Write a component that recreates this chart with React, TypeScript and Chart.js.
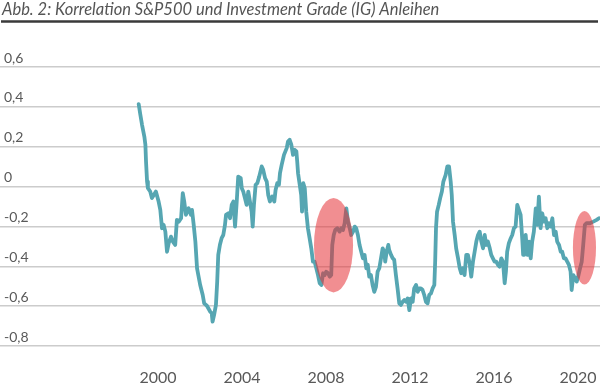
import React, { useEffect, useRef } from "react";
import { Chart, registerables } from "chart.js";

Chart.register(...registerables);

const TITLE = "Abb. 2: Korrelation S&P500 und Investment Grade (IG) Anleihen";

const xTicks = [2000, 2004, 2008, 2012, 2016, 2020];
const yTicks = [-0.8, -0.6, -0.4, -0.2, 0, 0.2, 0.4, 0.6];

const years = [
  1999.08, 1999.16, 1999.24, 1999.35, 1999.4, 1999.43, 1999.48, 1999.52, 1999.63, 1999.71,
  1999.8, 1999.9, 2000.03, 2000.11, 2000.19, 2000.27, 2000.35, 2000.43, 2000.51, 2000.62,
  2000.71, 2000.82, 2000.9, 2000.99, 2001.1, 2001.18, 2001.25, 2001.33, 2001.46, 2001.57,
  2001.62, 2001.7, 2001.78, 2001.86, 2002.01, 2002.13, 2002.2, 2002.33, 2002.49, 2002.56,
  2002.6, 2002.67, 2002.76, 2002.82, 2002.87, 2002.95, 2003.03, 2003.11, 2003.19, 2003.24,
  2003.35, 2003.43, 2003.51, 2003.59, 2003.67, 2003.75, 2003.82, 2003.94, 2003.99, 2004.06,
  2004.14, 2004.22, 2004.3, 2004.38, 2004.46, 2004.51, 2004.57, 2004.65, 2004.73, 2004.82,
  2004.94, 2005.01, 2005.1, 2005.18, 2005.25, 2005.33, 2005.44, 2005.54, 2005.6, 2005.68,
  2005.76, 2005.81, 2005.89, 2006.0, 2006.13, 2006.19, 2006.27, 2006.35, 2006.43, 2006.51,
  2006.59, 2006.63, 2006.67, 2006.75, 2006.82, 2006.86, 2006.92, 2006.99, 2007.06, 2007.14,
  2007.22, 2007.3, 2007.38, 2007.46, 2007.54, 2007.62, 2007.7, 2007.78, 2007.86, 2007.94,
  2008.01, 2008.1, 2008.18, 2008.25, 2008.3, 2008.37, 2008.44, 2008.54, 2008.65, 2008.73,
  2008.81, 2008.89, 2008.97, 2009.05, 2009.13, 2009.2, 2009.29, 2009.37, 2009.44, 2009.52,
  2009.6, 2009.68, 2009.76, 2009.84, 2009.92, 2009.99, 2010.06, 2010.14, 2010.22, 2010.3,
  2010.38, 2010.46, 2010.54, 2010.62, 2010.7, 2010.78, 2010.82, 2010.89, 2010.97, 2011.01,
  2011.1, 2011.18, 2011.25, 2011.33, 2011.41, 2011.49, 2011.57, 2011.65, 2011.73, 2011.81,
  2011.89, 2011.97, 2012.05, 2012.13, 2012.2, 2012.29, 2012.37, 2012.44, 2012.52, 2012.6,
  2012.68, 2012.76, 2012.84, 2012.92, 2013.0, 2013.08, 2013.16, 2013.2, 2013.24, 2013.29,
  2013.37, 2013.44, 2013.52, 2013.59, 2013.7, 2013.78, 2013.86, 2013.94, 2013.99, 2014.05,
  2014.13, 2014.2, 2014.29, 2014.37, 2014.44, 2014.52, 2014.6, 2014.68, 2014.76, 2014.84,
  2014.92, 2015.0, 2015.08, 2015.16, 2015.24, 2015.32, 2015.4, 2015.48, 2015.56, 2015.63,
  2015.71, 2015.8, 2015.87, 2015.95, 2016.03, 2016.11, 2016.19, 2016.27, 2016.35, 2016.43,
  2016.51, 2016.57, 2016.63, 2016.71, 2016.8, 2016.87, 2016.95, 2017.03, 2017.11, 2017.19,
  2017.27, 2017.35, 2017.39, 2017.43, 2017.51, 2017.59, 2017.67, 2017.75, 2017.82, 2017.9,
  2017.99, 2018.06, 2018.14, 2018.22, 2018.3, 2018.38, 2018.46, 2018.54, 2018.62, 2018.7,
  2018.78, 2018.86, 2018.94, 2019.01, 2019.1, 2019.18, 2019.25, 2019.33, 2019.41, 2019.49,
  2019.57, 2019.65, 2019.7, 2019.78, 2019.86, 2019.94, 2020.01, 2020.1, 2020.18, 2020.25,
  2020.33, 2020.41, 2020.57, 2020.73, 2020.89, 2021.0,
];

const correlation = [
  0.414, 0.36, 0.31, 0.251, 0.21, 0.126, 0.025, -0.008, -0.025, -0.058,
  -0.042, -0.025, -0.075, -0.117, -0.209, -0.192, -0.226, -0.327, -0.284, -0.251,
  -0.276, -0.293, -0.167, -0.176, -0.159, -0.033, -0.075, -0.142, -0.109, -0.142,
  -0.117, -0.192, -0.276, -0.41, -0.494, -0.544, -0.586, -0.598, -0.628, -0.636,
  -0.678, -0.645, -0.594, -0.477, -0.343, -0.292, -0.259, -0.243, -0.192, -0.142,
  -0.134, -0.159, -0.092, -0.075, -0.201, -0.075, 0.05, 0.042, -0.008, -0.025,
  -0.058, -0.092, -0.025, -0.075, -0.126, -0.201, -0.092, 0.009, 0.017, 0.05,
  0.101, 0.084, 0.042, 0.025, -0.042, -0.075, -0.05, -0.075, -0.017, 0.017,
  0.009, 0.067, 0.109, 0.159, 0.193, 0.226, 0.235, 0.21, 0.159, 0.184,
  0.176, 0.126, 0.067, 0.009, -0.042, -0.126, 0.017, -0.008, -0.126, -0.209,
  -0.259, -0.31, -0.377, -0.377, -0.41, -0.444, -0.485, -0.494, -0.435, -0.444,
  -0.427, -0.435, -0.452, -0.444, -0.293, -0.243, -0.218, -0.209, -0.226, -0.209,
  -0.218, -0.184, -0.109, -0.176, -0.209, -0.243, -0.226, -0.201, -0.209, -0.243,
  -0.293, -0.327, -0.36, -0.343, -0.41, -0.392, -0.452, -0.444, -0.494, -0.528,
  -0.503, -0.427, -0.41, -0.36, -0.31, -0.327, -0.377, -0.327, -0.293, -0.318,
  -0.343, -0.36, -0.368, -0.444, -0.511, -0.586, -0.594, -0.578, -0.569, -0.578,
  -0.561, -0.62, -0.561, -0.578, -0.511, -0.494, -0.528, -0.511, -0.511, -0.519,
  -0.544, -0.578, -0.586, -0.544, -0.536, -0.511, -0.494, -0.377, -0.209, -0.126,
  -0.092, -0.058, -0.025, 0.025, 0.059, 0.101, 0.101, 0.025, -0.042, -0.176,
  -0.243, -0.31, -0.36, -0.41, -0.435, -0.41, -0.444, -0.343, -0.343, -0.385,
  -0.452, -0.377, -0.327, -0.276, -0.243, -0.226, -0.276, -0.31, -0.243, -0.293,
  -0.276, -0.31, -0.343, -0.36, -0.377, -0.377, -0.393, -0.402, -0.36, -0.377,
  -0.485, -0.427, -0.327, -0.284, -0.259, -0.243, -0.209, -0.201, -0.092, -0.117,
  -0.142, -0.268, -0.343, -0.31, -0.243, -0.343, -0.276, -0.36, -0.276, -0.226,
  -0.109, -0.192, -0.05, -0.209, -0.134, -0.176, -0.159, -0.209, -0.184, -0.201,
  -0.159, -0.243, -0.226, -0.276, -0.293, -0.327, -0.327, -0.36, -0.36, -0.377,
  -0.393, -0.427, -0.519, -0.444, -0.46, -0.477, -0.452, -0.41, -0.377, -0.293,
  -0.192, -0.184, -0.184, -0.176, -0.167, -0.159,
];

// highlighted crisis periods (centre and half-extent in data units)
const highlightCenterX = [2008.36, 2020.31];
const highlightCenterY = [-0.294, -0.307];
const highlightHalfX = [0.93, 0.55];
const highlightHalfY = [0.237, 0.184];

const X_MIN = 1992.476;
const X_MAX = 2021.05;

const fmtY = (v: number) => {
  if (Math.abs(v) < 1e-9) return "0";
  return v.toFixed(1).replace(".", ",");
};

const titlePlugin = {
  id: "titleRule",
  afterDraw(chart: any) {
    const ctx = chart.ctx;
    ctx.save();
    ctx.font = "italic 16.5px Lato";
    ctx.fillStyle = "#555555";
    ctx.textBaseline = "alphabetic";
    ctx.textAlign = "left";
    ctx.fillText(TITLE, 2, 15);
    ctx.strokeStyle = "#3a3a3a";
    ctx.lineWidth = 2.5;
    ctx.beginPath();
    ctx.moveTo(1, 21.5);
    ctx.lineTo(598, 21.5);
    ctx.stroke();
    ctx.restore();
  },
};

const ellipsePlugin = {
  id: "highlights",
  afterDatasetsDraw(chart: any) {
    const ctx = chart.ctx;
    const xs = chart.scales.x;
    const ys = chart.scales.y;
    ctx.save();
    ctx.fillStyle = "rgba(230, 50, 55, 0.55)";
    for (let i = 0; i < highlightCenterX.length; i++) {
      const cx = xs.getPixelForValue(highlightCenterX[i]);
      const cy = ys.getPixelForValue(highlightCenterY[i]);
      const rx = Math.abs(xs.getPixelForValue(highlightCenterX[i] + highlightHalfX[i]) - cx);
      const ry = Math.abs(ys.getPixelForValue(highlightCenterY[i] + highlightHalfY[i]) - cy);
      ctx.beginPath();
      ctx.ellipse(cx, cy, rx, ry, 0, 0, Math.PI * 2);
      ctx.fill();
    }
    ctx.restore();
  },
};

export default function App() {
  const ref = useRef<HTMLCanvasElement | null>(null);

  useEffect(() => {
    document.body.style.margin = "0";
    const canvas = ref.current;
    if (!canvas) return;
    const data = years.map((x, i) => ({ x, y: correlation[i] }));
    const chart = new Chart(canvas, {
      type: "line",
      data: {
        datasets: [
          {
            data,
            borderColor: "#56a6b2",
            borderWidth: 3.8,
            pointRadius: 0,
            tension: 0,
            fill: false,
            borderJoinStyle: "round",
            borderCapStyle: "round",
            clip: false as any,
          },
        ],
      },
      options: {
        animation: false,
        responsive: false,
        devicePixelRatio: 1,
        layout: { padding: { top: 67, left: 0, right: 0, bottom: 0 } },
        plugins: {
          legend: { display: false },
          tooltip: { enabled: false },
          title: { display: false },
        },
        scales: {
          x: {
            type: "linear",
            min: X_MIN,
            max: X_MAX,
            grid: { display: false, drawTicks: false },
            border: { display: false },
            afterBuildTicks: (scale: any) => {
              scale.ticks = xTicks.map((v) => ({ value: v }));
            },
            afterFit: (scale: any) => {
              scale.height = 46;
              scale.paddingLeft = 0;
              scale.paddingRight = 0;
            },
            ticks: {
              padding: 22,
              maxRotation: 0,
              autoSkip: false,
              color: "#595959",
              font: { family: "Lato", size: 16 },
              callback: (v: any) => String(v),
            },
          },
          y: {
            type: "linear",
            min: -0.8,
            max: 0.6,
            grid: { color: "#cccccc", lineWidth: 1.5, drawTicks: false },
            border: { display: false },
            afterBuildTicks: (scale: any) => {
              scale.ticks = yTicks.map((v) => ({ value: v }));
            },
            afterFit: (scale: any) => {
              scale.width = 0;
            },
            ticks: {
              mirror: true,
              padding: 4,
              labelOffset: -9,
              color: "#595959",
              font: { family: "Lato", size: 14 },
              callback: (v: any) => fmtY(Number(v)),
            },
          },
        },
      },
      plugins: [titlePlugin, ellipsePlugin],
    });
    return () => chart.destroy();
  }, []);

  return (
    <div style={{ width: 600, height: 392 }}>
      <canvas ref={ref} width={600} height={392} style={{ display: "block" }} />
    </div>
  );
}
